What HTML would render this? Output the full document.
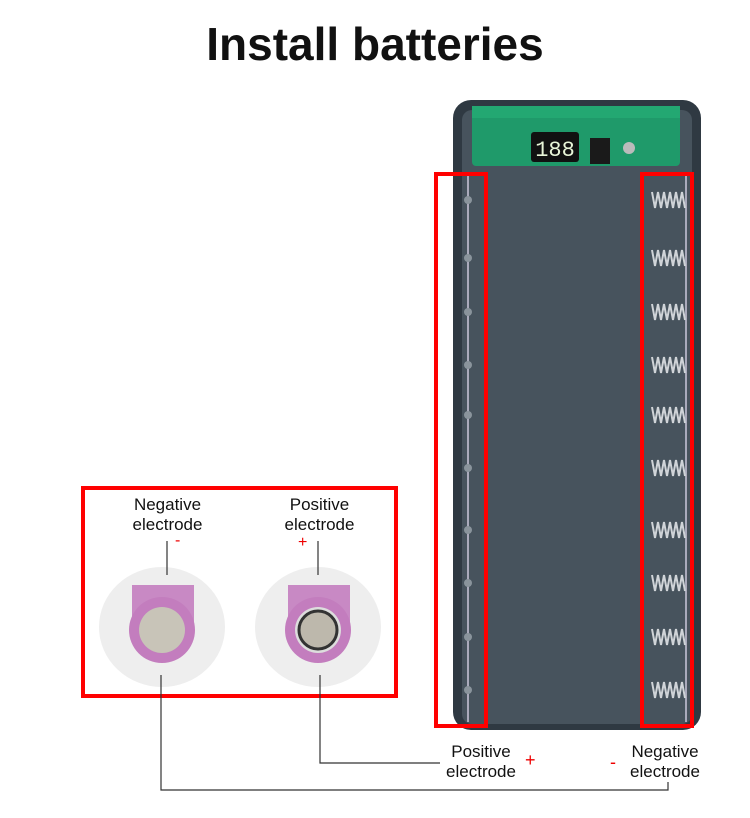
<!DOCTYPE html>
<html><head><meta charset="utf-8"><style>
body{margin:0;width:750px;height:818px;background:#fff;position:relative;overflow:hidden;font-family:"Liberation Sans",sans-serif}
.t{position:absolute;color:#111;font-size:17px;line-height:20px;text-align:center}
</style></head><body>
<div style="position:absolute;left:0;width:750px;top:17px;text-align:center;font-size:46px;font-weight:bold;color:#111;letter-spacing:0px">Install batteries</div>
<svg width="750" height="818" style="position:absolute;left:0;top:0">
<rect x="453" y="100" width="248" height="630" rx="18" fill="#2f3942"/>
<rect x="462" y="110" width="230" height="614" rx="10" fill="#47535d"/>
<rect x="472" y="106" width="208" height="60" rx="4" fill="#1f9a6a"/>
<rect x="472" y="106" width="208" height="12" fill="#23a872"/>
<rect x="531" y="132" width="48" height="30" rx="3" fill="#111"/>
<text x="555" y="156" font-size="22" fill="#e8f5d8" text-anchor="middle" font-family="Liberation Mono">188</text>
<rect x="590" y="138" width="20" height="26" fill="#1a1a1a"/>
<circle cx="629" cy="148" r="6" fill="#bbb"/>
<line x1="468" y1="172" x2="468" y2="722" stroke="#aab" stroke-width="2"/>
<line x1="686" y1="172" x2="686" y2="722" stroke="#aab" stroke-width="2"/>
<g fill="#8a949c">
<circle cx="468" cy="200" r="4"/><circle cx="468" cy="258" r="4"/><circle cx="468" cy="312" r="4"/><circle cx="468" cy="365" r="4"/><circle cx="468" cy="415" r="4"/><circle cx="468" cy="468" r="4"/><circle cx="468" cy="530" r="4"/><circle cx="468" cy="583" r="4"/><circle cx="468" cy="637" r="4"/><circle cx="468" cy="690" r="4"/>
</g>
<g stroke="#d0d4d8" stroke-width="2" fill="none">
<path id="sp" d="M652 192 l3 16 l3 -16 l3 16 l3 -16 l3 16 l3 -16 l3 16 l3 -16 l3 16 l3 -16 l3 16"/>
<use href="#sp" y="58"/><use href="#sp" y="112"/><use href="#sp" y="165"/><use href="#sp" y="215"/><use href="#sp" y="268"/><use href="#sp" y="330"/><use href="#sp" y="383"/><use href="#sp" y="437"/><use href="#sp" y="490"/>
</g>
<rect x="436" y="174" width="50" height="552" fill="none" stroke="#f00" stroke-width="4"/>
<rect x="642" y="174" width="50" height="552" fill="none" stroke="#f00" stroke-width="4"/>
<rect x="83" y="488" width="313" height="208" fill="none" stroke="#f00" stroke-width="4"/>
<ellipse cx="162" cy="627" rx="63" ry="60" fill="#eeeeee"/>
<ellipse cx="318" cy="627" rx="63" ry="60" fill="#eeeeee"/>
<rect x="132" y="585" width="62" height="40" fill="#c889c4"/>
<rect x="288" y="585" width="62" height="40" fill="#c889c4"/>
<circle cx="162" cy="630" r="33" fill="#c37dbe"/>
<circle cx="162" cy="630" r="23" fill="#c8c4b8"/>
<circle cx="318" cy="630" r="33" fill="#c37dbe"/>
<circle cx="318" cy="630" r="23" fill="#ddd"/>
<circle cx="318" cy="630" r="19" fill="#bdb8ac" stroke="#333" stroke-width="3"/>
<g stroke="#333" stroke-width="1.2" fill="none">
<line x1="167" y1="541" x2="167" y2="575"/>
<line x1="318" y1="541" x2="318" y2="575"/>
<polyline points="161,675 161,790 668,790 668,782"/>
<polyline points="320,675 320,763 440,763"/>
</g>
</svg>
<div class="t" style="left:110px;top:495px;width:115px">Negative<br>electrode</div>
<div class="t" style="left:262px;top:495px;width:115px">Positive<br>electrode</div>
<div style="position:absolute;left:175px;top:532px;color:#e00;font-size:16px">-</div>
<div style="position:absolute;left:298px;top:534px;color:#e00;font-size:16px">+</div>
<div class="t" style="left:436px;top:742px;width:90px">Positive<br>electrode</div>
<div style="position:absolute;left:525px;top:750px;color:#e00;font-size:18px">+</div>
<div class="t" style="left:620px;top:742px;width:90px">Negative<br>electrode</div>
<div style="position:absolute;left:610px;top:752px;color:#e00;font-size:18px">-</div>
</body></html>
